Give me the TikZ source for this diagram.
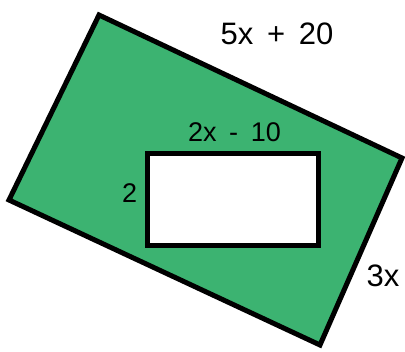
\documentclass[tikz,border=0pt]{standalone}
\usepackage{fontspec}
\setmainfont{Liberation Sans}
\usetikzlibrary{positioning}
\definecolor{lawn}{RGB}{60,179,113}
\tikzset{every picture/.style={line width=5pt}}
\tikzset{dimlabel/.style={inner sep=0pt, font=\fontsize{27}{31}\selectfont}}
\tikzset{biglabel/.style={inner sep=0pt, font=\fontsize{31}{35}\selectfont}}

\begin{document}
\begin{tikzpicture}[x=1pt,y=-1pt]
    \useasboundingbox (0,0) rectangle (405,352);

    % outer field
    \draw[fill=lawn] (99,15) -- (402,158) -- (320,345) -- (9,200) -- cycle;

    % inner plot
    \draw[fill=white] (147.5,153.5) rectangle (318,245.5);

    % side lengths
    \node[biglabel] (long) at (277,34) {5x\hspace{0.44em}+\hspace{0.44em}20};
    \node[biglabel] (short) at (383,276) {3x};
    \node[dimlabel] (inlong) at (234.5,132) {2x\hspace{0.47em}-\hspace{0.47em}10};
    \node[dimlabel] (inshort) at (129.7,193) {2};
\end{tikzpicture}
\end{document}
